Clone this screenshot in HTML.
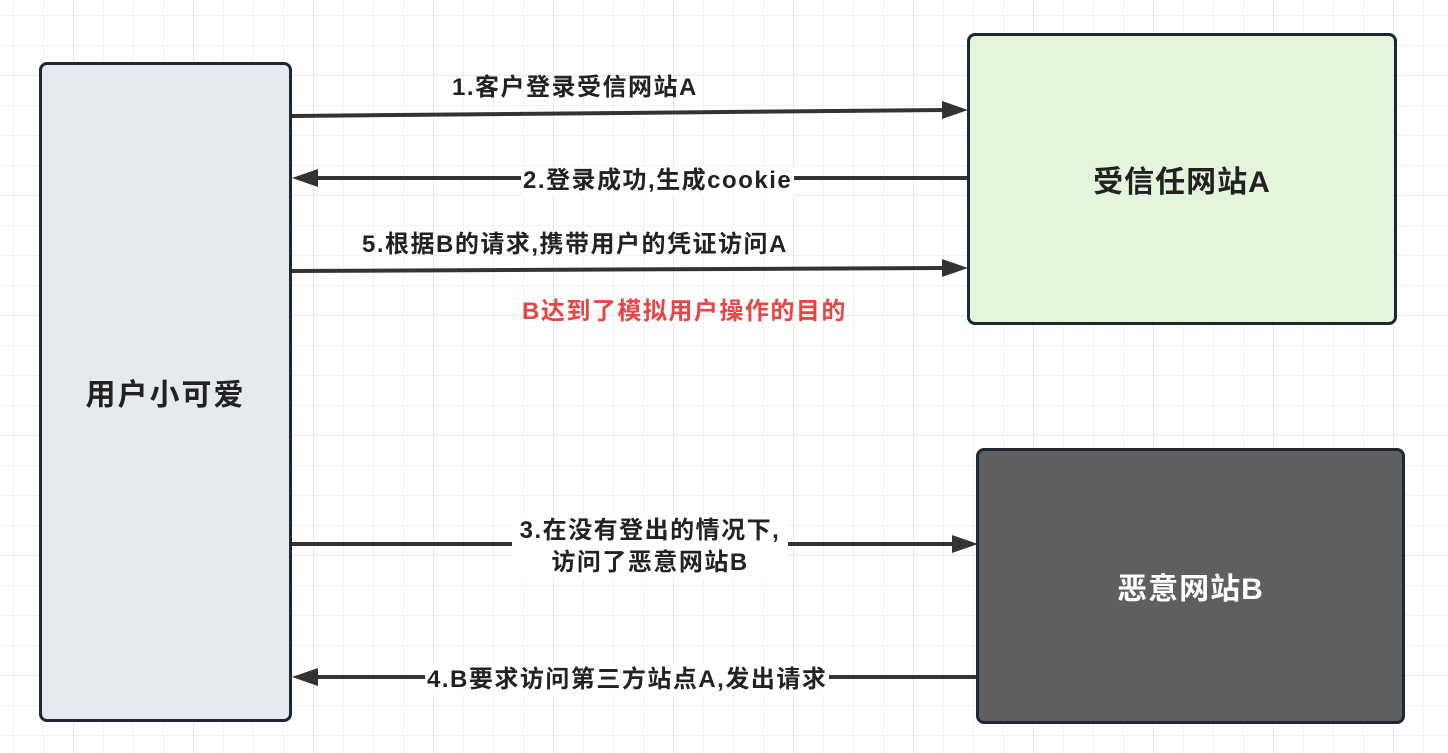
<!DOCTYPE html>
<html><head><meta charset="utf-8"><style>
body{margin:0;width:1448px;height:753px;overflow:hidden;background:#fff;
background-image:linear-gradient(#e6e6e6 1px,transparent 1px),linear-gradient(90deg,#e6e6e6 1px,transparent 1px),linear-gradient(#f2f2f2 1px,transparent 1px),linear-gradient(90deg,#f2f2f2 1px,transparent 1px);
background-size:120px 120px,120px 120px,30px 30px,30px 30px;background-position:0 -45px,-47px 0,0 -15px,-17px 0;
font-family:"Liberation Sans","Noto Sans CJK SC",sans-serif;font-weight:bold;color:#222;position:relative}
.box{position:absolute;border:3px solid #1e2830;border-radius:8px;box-sizing:border-box;display:flex;align-items:center;justify-content:center;font-size:30px;letter-spacing:1px}
.t{position:absolute;font-size:24px;letter-spacing:1.5px;background:#fff;white-space:nowrap;line-height:30px}
svg{position:absolute;left:0;top:0}
</style></head><body>
<div class="box" style="left:39px;top:62px;width:253px;height:660px;background:#e6eaee;letter-spacing:2px">用户小可爱</div>
<div class="box" style="left:967px;top:33px;width:430px;height:292px;background:#e3f5da">受信任网站A</div>
<div class="box" style="left:976px;top:448px;width:429px;height:276px;background:#5f5f5f;color:#fff">恶意网站B</div>
<svg width="1448" height="753">
<g stroke="#333" stroke-width="4" fill="none">
<line x1="292" y1="116" x2="945" y2="110"/>
<line x1="315" y1="178" x2="967" y2="178"/>
<line x1="292" y1="271" x2="945" y2="268"/>
<line x1="292" y1="544" x2="955" y2="544"/>
<line x1="315" y1="677" x2="976" y2="677"/>
</g>
<g fill="#333">
<polygon points="968,110 942,101 942,119"/>
<polygon points="292,178 318,169 318,187"/>
<polygon points="968,268 942,259 942,277"/>
<polygon points="978,544 952,535 952,553"/>
<polygon points="292,677 318,668 318,686"/>
</g>
</svg>
<div class="t" style="left:452px;top:73px;background:none">1.客户登录受信网站A</div>
<div class="t" style="left:521px;top:166px;padding:0 2px">2.登录成功,生成cookie</div>
<div class="t" style="left:362px;top:230px;background:none">5.根据B的请求,携带用户的凭证访问A</div>
<div class="t" style="left:522px;top:297px;color:#e84545;background:none">B达到了模拟用户操作的目的</div>
<div class="t" style="left:512px;top:515px;width:276px;text-align:center;line-height:32px">3.在没有登出的情况下,<br>访问了恶意网站B</div>
<div class="t" style="left:425px;top:665px;padding:0 2px">4.B要求访问第三方站点A,发出请求</div>
</body></html>
